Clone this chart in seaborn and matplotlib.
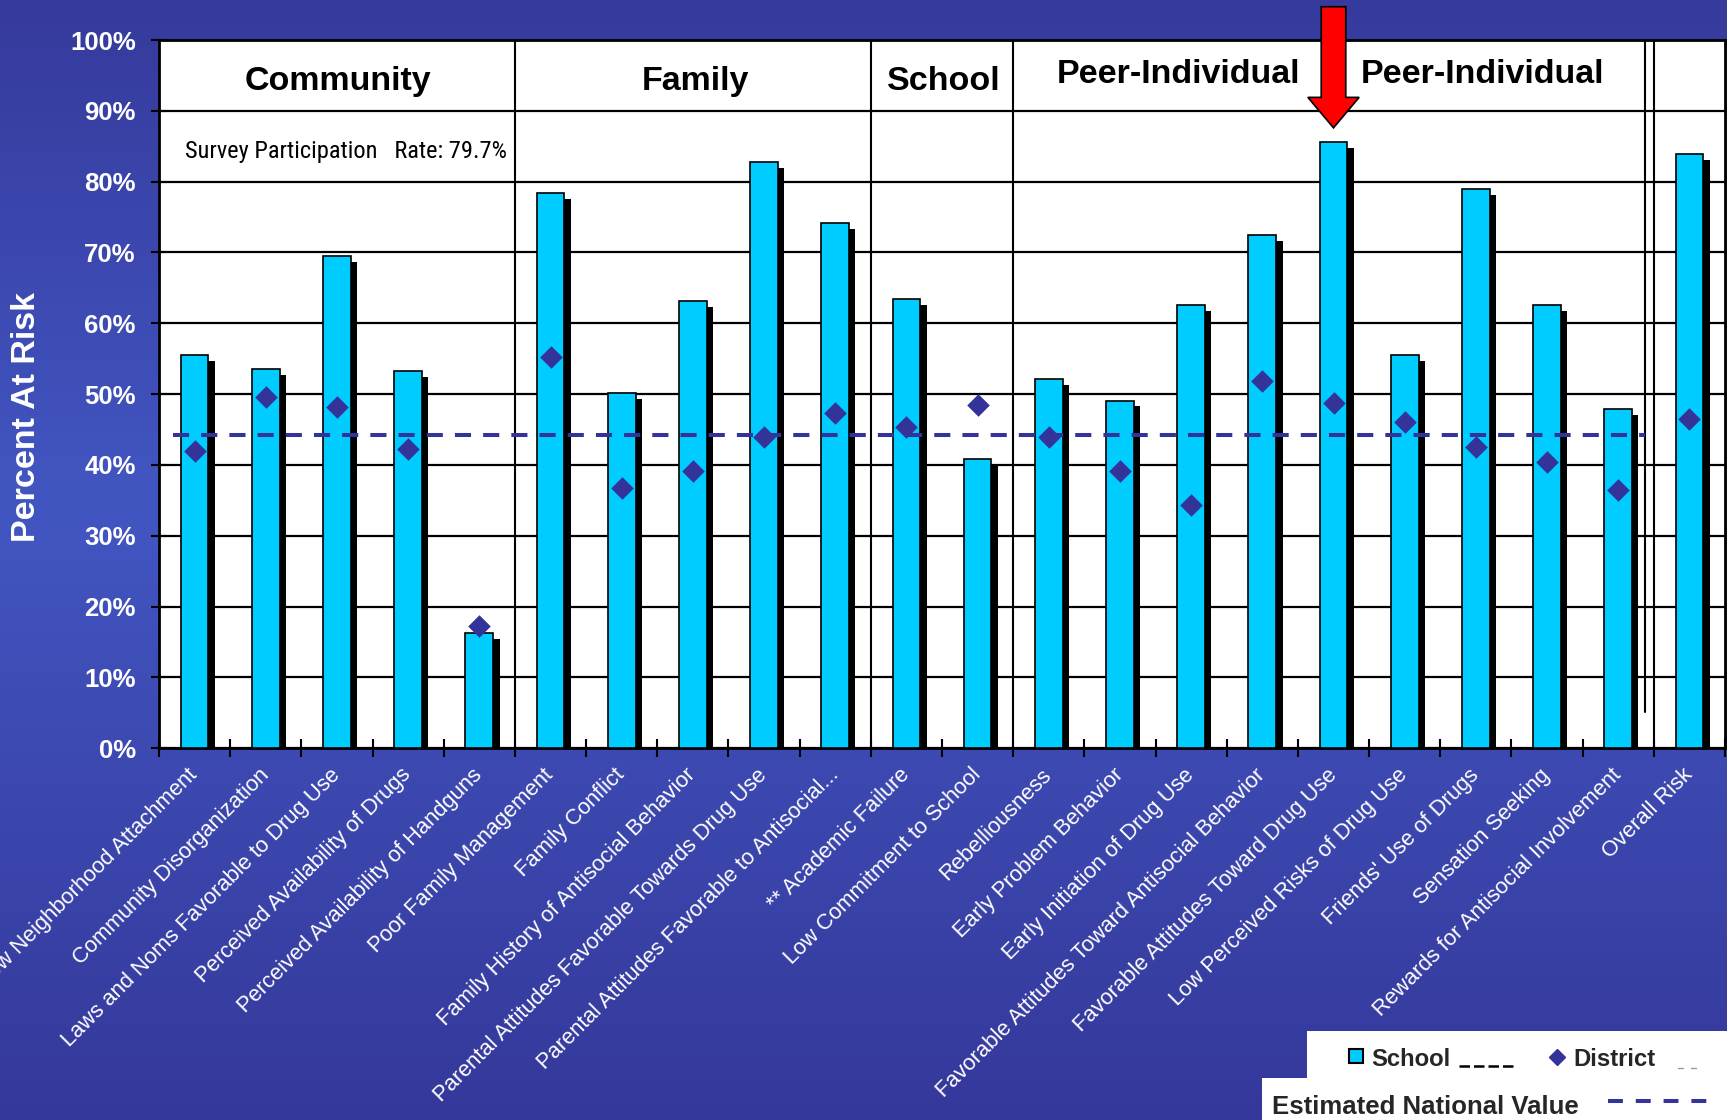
import numpy as np
import pandas as pd
import matplotlib
matplotlib.use("Agg")
import matplotlib.pyplot as plt
import matplotlib.patheffects as pe
from matplotlib.patches import FancyArrow, Rectangle
from matplotlib.colors import LinearSegmentedColormap
import seaborn as sns

# ---- data -------------------------------------------------------------
categories = [
    "Low Neighborhood Attachment",
    "Community Disorganization",
    "Laws and Noms Favorable to Drug Use",
    "Perceived Availability of Drugs",
    "Perceived Availability of Handguns",
    "Poor Family Management",
    "Family Conflict",
    "Family History of Antisocial Behavior",
    "Parental Attitudes Favorable Towards Drug Use",
    "Parental Attitudes Favorable to Antisocial...",
    "** Academic Failure",
    "Low Commitment to School",
    "Rebelliousness",
    "Early Problem Behavior",
    "Early Initiation of Drug Use",
    "Favorable Attitudes Toward Antisocial Behavior",
    "Favorable Attitudes Toward Drug Use",
    "Low Perceived Risks of Drug Use",
    "Friends' Use of Drugs",
    "Sensation Seeking",
    "Rewards for Antisocial Involvement",
    "Overall Risk",
]
school = [55.5, 53.6, 69.5, 53.3, 16.3, 78.4, 50.1, 63.1, 82.8, 74.1, 63.4,
          40.9, 52.1, 49.1, 62.6, 72.4, 85.6, 55.5, 78.9, 62.6, 47.9, 83.9]
district = [42.0, 49.6, 48.2, 42.2, 17.2, 55.3, 36.7, 39.2, 43.9, 47.4, 45.4,
            48.5, 44.0, 39.2, 34.4, 51.9, 48.8, 46.0, 42.6, 40.4, 36.4, 46.5]
national = 44.3
domains = ["Community", "Family", "School", "Peer-Individual", "Peer-Individual"]
group_sizes = [5, 5, 2, 9, 1]          # factors per domain column block
highlight = categories.index("Favorable Attitudes Toward Drug Use")
yticks = list(range(0, 101, 10))

# ---- styling ----------------------------------------------------------
CYAN = "#00ccff"
NAVY = "#333399"
sns.set_theme(style="white")
plt.rcParams["font.family"] = ["Liberation Sans", "DejaVu Sans"]

W, H, DPI = 1727, 1120, 100
fig = plt.figure(figsize=(W / DPI, H / DPI), dpi=DPI)

# slide-style blue gradient backdrop
bg = fig.add_axes([0, 0, 1, 1], zorder=0)
cmap = LinearSegmentedColormap.from_list(
    "slide", [(0.0, "#363a9c"), (0.45, "#4256c2"), (1.0, "#35389a")])
bg.imshow(np.linspace(0, 1, 512).reshape(-1, 1), aspect="auto", cmap=cmap,
          extent=[0, 1, 0, 1], origin="upper")
bg.set_axis_off()

# main chart area
ax_l, ax_r, ax_t, ax_b = 159, 1725, 40, 748.3
ax = fig.add_axes([ax_l / W, 1 - ax_b / H, (ax_r - ax_l) / W, (ax_b - ax_t) / H],
                  zorder=1)
ax.set_facecolor("white")

df = pd.DataFrame({"factor": categories, "school": school, "district": district})

sns.barplot(data=df, x="factor", y="school", color=CYAN, saturation=1,
            width=0.39, edgecolor="black", linewidth=1.2, ax=ax, zorder=3)
for bar in ax.patches:
    bar.set_path_effects([
        pe.SimplePatchShadow(offset=(4.6, -4.3), shadow_rgbFace="black", alpha=1.0),
        pe.Normal(),
    ])

sns.stripplot(data=df, x="factor", y="district", jitter=False, marker="D",
              size=11.5, color=NAVY, linewidth=0, ax=ax, zorder=6)

# estimated national value (dashed reference)
ax.plot([-0.3, 20.38], [national, national], color=NAVY, lw=2.9,
        dashes=(4, 3), zorder=5)

# domain separators
bounds = np.cumsum(group_sizes)[:-1] - 0.5
for b in list(bounds[:3]) + [bounds[3]]:
    ax.axvline(b, color="black", lw=1.5, zorder=2)
ax.plot([bounds[3] - 0.12] * 2, [5.1, 100], color="black", lw=1.5, zorder=2)

# domain headers in the top band
header_x = [2.01, 7.03, 10.53, 13.82, 18.10]
header_y = [93.0, 93.0, 93.0, 93.9, 93.9]
for name, hx, hy in zip(domains, header_x, header_y):
    ax.text(hx, hy, name, ha="center", va="baseline", fontsize=24.5,
            fontweight="bold", color="black", zorder=7)

ax.text(-0.14, 83.3, "Survey Participation   Rate: 79.7%", ha="left",
        va="baseline", fontsize=17.6, color="black", fontstretch="condensed",
        family=["Liberation Sans Narrow", "Roboto Condensed",
                "Open Sans Condensed", "DejaVu Sans Condensed"], zorder=7)

# pointer arrow on the highlighted factor
tip = school[highlight] + 2.0
top = 104.7
ax.add_patch(FancyArrow(highlight, top, 0, tip - top, width=0.345,
                        head_width=0.72, head_length=4.3,
                        length_includes_head=True, fc="#ff0000", ec="black",
                        lw=1.2, clip_on=False, zorder=8))

# axes, ticks and grid
ax.set_xlim(-0.5, len(categories) - 0.5)
ax.set_ylim(0, 100)
ax.set_xlabel("")
ax.set_ylabel("")
ax.set_axisbelow(True)
ax.yaxis.grid(True, color="black", lw=1.6)
ax.xaxis.grid(False)
ax.set_yticks(yticks)
ax.set_yticklabels([f"{v}%" for v in yticks])
ax.tick_params(axis="y", direction="inout", length=11.5, width=1.5,
               color="black", labelcolor="white", labelsize=18.5, pad=11, left=True)
for lab in ax.get_yticklabels():
    lab.set_fontweight("bold")

ax.set_xticks(range(len(categories)))
ax.set_xticks(np.arange(-0.5, len(categories), 1), minor=True)
ax.tick_params(axis="x", which="major", length=0, pad=17, labelsize=15.8,
               labelcolor="white")
ax.tick_params(axis="x", which="minor", direction="inout", length=13,
               width=1.5, color="black", bottom=True)
for lab in ax.get_xticklabels():
    lab.set_rotation(45)
    lab.set_ha("right")
    lab.set_va("center")
    lab.set_rotation_mode("anchor")

for s in ax.spines.values():
    s.set_visible(True)
    s.set_color("black")
    s.set_linewidth(2)

fig.text(27 / W, 1 - 417 / H, "Percent At Risk", rotation=90, ha="center",
         va="center", color="white", fontsize=24.5, fontweight="bold")

# legend panel (pixel coordinates)
ov = fig.add_axes([0, 0, 1, 1], zorder=5)
ov.set_xlim(0, W)
ov.set_ylim(H, 0)
ov.set_axis_off()
ov.patch.set_alpha(0)
ov.add_patch(Rectangle((1307, 1031), 420, 47, fc="white", ec="none"))
ov.add_patch(Rectangle((1262, 1078), 465, 42, fc="white", ec="none"))
ov.plot([1356], [1056], marker="s", ms=10, mfc=CYAN, mec="black", mew=1.5)
ov.text(1371, 1066, "School", ha="left", va="baseline", fontsize=17.2,
        fontweight="bold")
ov.plot([1459, 1513], [1066, 1066], color="black", lw=1.8, dashes=(4.2, 1.6))
ov.plot([1557], [1057], marker="D", ms=8.6, color=NAVY)
ov.text(1573, 1066, "District", ha="left", va="baseline", fontsize=17.2,
        fontweight="bold")
ov.plot([1678, 1683], [1068, 1068], color="#999999", lw=1)
ov.plot([1691, 1696], [1068, 1068], color="#999999", lw=1)
ov.text(1272, 1114, "Estimated National Value", ha="left", va="baseline",
        fontsize=18.5, fontweight="bold")
ov.plot([1608, 1708], [1101, 1101], color=NAVY, lw=2.9, dashes=(3.7, 3.2))

fig.savefig("out.png", dpi=DPI)
